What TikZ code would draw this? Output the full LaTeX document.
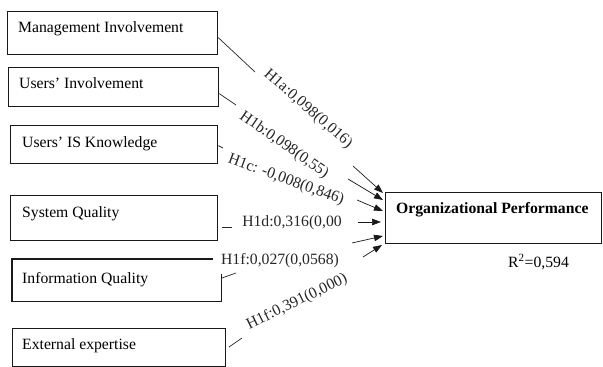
\documentclass[tikz,border=0pt]{standalone}
\usepackage{fontspec}
\setmainfont{Liberation Serif}
\usetikzlibrary{arrows.meta}
\begin{document}
\begin{tikzpicture}[x=1pt,y=-1pt,
  box/.style={draw=black!90, line width=1.3pt, anchor=north west, inner sep=0pt},
  area/.style={anchor=north west, inner sep=0pt},
  boxline/.style={draw=black!90, line width=1.3pt},
  boxtext/.style={anchor=base west, inner sep=0pt, font=\fontsize{15.7}{18}\selectfont},
  lab/.style={inner sep=0pt, text=black!85, font=\fontsize{15.7}{18}\selectfont},
  conn/.style={line width=0.7pt, draw=black!85},
  arr/.style={line width=0.7pt, draw=black!90, -{Triangle[length=9pt,width=6.5pt]}}
]
\useasboundingbox (0,0) rectangle (603,367);

% boxes
\node[box, minimum width=210pt, minimum height=43pt] (mi) at (7,11) {};
\node[box, minimum width=210pt, minimum height=39pt] (ui) at (8,67) {};
\node[box, minimum width=207pt, minimum height=38pt] (uis) at (10,125) {};
\node[box, minimum width=207pt, minimum height=45pt] (sq) at (10,195) {};
\node[area, minimum width=209pt, minimum height=42pt] (iq) at (12,259) {};
\draw[boxline] ([xshift=201pt]iq.north west) -- (iq.north west) -- (iq.south west) -- (iq.south east) -- ([yshift=-15pt]iq.north east);
\node[box, minimum width=213pt, minimum height=38pt] (ee) at (12,328) {};
\node[box, minimum width=216pt, minimum height=51pt] (org) at (385,192) {};

% box texts
\node[boxtext] (mit) at (18,32) {Management Involvement};
\node[boxtext] (uit) at (19,88) {Users’ Involvement};
\node[boxtext] (uist) at (22,147) {Users’ IS Knowledge};
\node[boxtext] (sqt) at (22,217) {System Quality};
\node[boxtext] (iqt) at (22,283) {Information Quality};
\node[boxtext] (eet) at (22,349) {External expertise};
\node[boxtext, font=\fontsize{15.7}{18}\selectfont\bfseries] (orgt) at (396,213) {Organizational Performance};
\node[boxtext] (r2) at (508,267) {R\textsuperscript{2}=0,594};

% labels
\node[lab, rotate=-41] (la) at (308,109) {H1a:0,098(0,016)};
\node[lab, rotate=-35] (lb) at (284,145) {H1b:0,098(0,55)};
\node[lab, rotate=-20] (lc) at (286,180) {H1c: -0,008(0,846)};
\node[lab] (ld) at (292,223) {H1d:0,316(0,00};
\node[lab] (le) at (280,261) {H1f:0,027(0,0568)};
\node[lab, rotate=26] (lf) at (297,302) {H1f:0,391(0,000)};

% tick coordinates
\coordinate (t1) at (255,72);
\coordinate (t2) at (236,105);
\coordinate (t3) at (223,148);
\coordinate (s4) at (222,227);
\coordinate (t4) at (232,227);
\coordinate (s5) at (222,278);
\coordinate (t5) at (236,273);
\coordinate (s6) at (229,347);
\coordinate (t6) at (242,338);

% arrow tails
\coordinate (a1) at (353,166);
\coordinate (a2) at (348,179);
\coordinate (a3) at (357,200);
\coordinate (a4) at (358,222);
\coordinate (a5) at (352,243);
\coordinate (a6) at (363,257);

% connectors
\draw[conn] ([yshift=-4.5pt]mi.east) -- (t1);
\draw[conn] ([yshift=-6.5pt]ui.east) -- (t2);
\draw[conn] ([yshift=-1pt]uis.east) -- (t3);
\draw[conn] (s4) -- (t4);
\draw[conn] (s5) -- (t5);
\draw[conn] (s6) -- (t6);

\draw[arr] (a1) -- ([shift={(-2,1)}]org.north west);
\draw[arr] (a2) -- ([shift={(-2,8)}]org.north west);
\draw[arr] (a3) -- ([shift={(-2,19)}]org.north west);
\draw[arr] (a4) -- ([shift={(-4,30)}]org.north west);
\draw[arr] (a5) -- ([shift={(-2,44)}]org.north west);
\draw[arr] (a6) -- ([shift={(-3,53)}]org.north west);
\end{tikzpicture}
\end{document}
